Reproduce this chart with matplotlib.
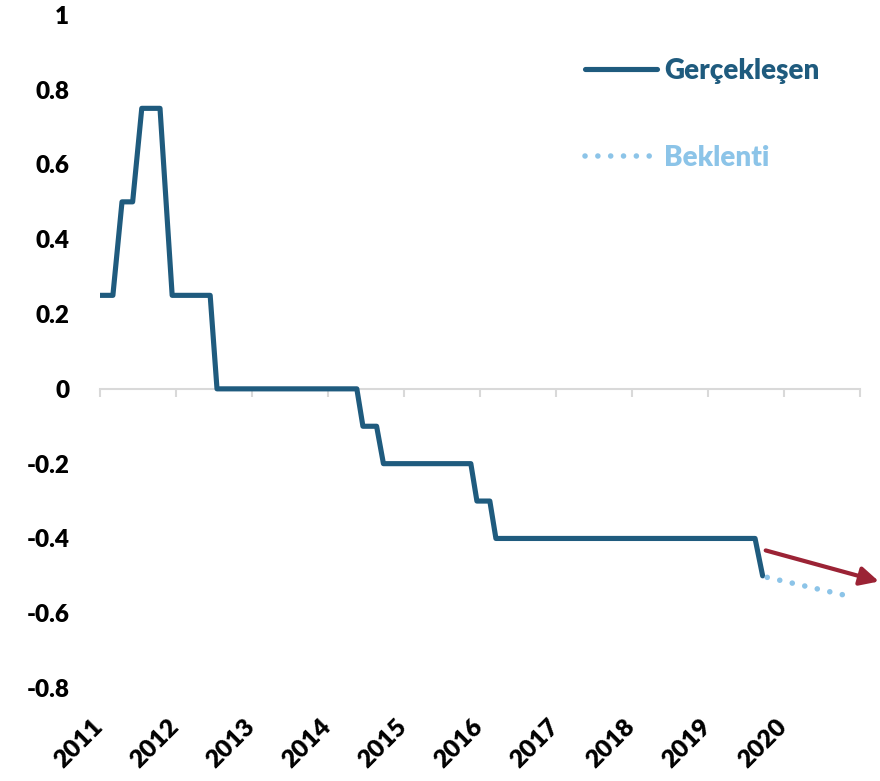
import matplotlib
matplotlib.use("Agg")
import matplotlib.pyplot as plt

plt.rcParams['font.family'] = ['Lato', 'DejaVu Sans']

# Gerçekleşen: breakpoints (decimal year, rate %)
actual_x = [2011.00, 2011.17, 2011.29, 2011.43, 2011.55, 2011.79, 2011.95,
            2012.45, 2012.54, 2014.38, 2014.46, 2014.64, 2014.73, 2015.88,
            2015.96, 2016.13, 2016.21, 2019.62, 2019.72]
actual_y = [0.25, 0.25, 0.50, 0.50, 0.75, 0.75, 0.25,
            0.25, 0.00, 0.00, -0.10, -0.10, -0.20, -0.20,
            -0.30, -0.30, -0.40, -0.40, -0.50]

# Beklenti
expect_x = [2019.78, 2020.87]
expect_y = [-0.504, -0.555]

# trend arrow
arrow_start = (2019.76, -0.432)
arrow_end = (2021.25, -0.515)

years = list(range(2011, 2022))
year_labels = [str(y) for y in range(2011, 2021)]
yticks = [1, 0.8, 0.6, 0.4, 0.2, 0, -0.2, -0.4, -0.6, -0.8]
ytick_labels = ['1', '0.8', '0.6', '0.4', '0.2', '0', '-0.2', '-0.4', '-0.6', '-0.8']

dark = '#1f5b7e'
light = '#8cc4e8'
red = '#9b2335'
grey = '#d9d9d9'
W = 800  # heavy weight, close to Calibri Bold

fig = plt.figure(figsize=(8.8, 7.81), dpi=100)
ax = fig.add_axes([0.1136, 0.119, 0.8636, 0.862])

ax.plot(actual_x, actual_y, color=dark, lw=3.7, solid_joinstyle='round',
        solid_capstyle='round', label='Gerçekleşen', zorder=3)
ax.plot(expect_x, expect_y, color=light, lw=4.0, linestyle=(0, (0.01, 2.3)),
        dash_capstyle='round', label='Beklenti', zorder=4)

ax.annotate('', xy=arrow_end, xytext=arrow_start, annotation_clip=False,
            arrowprops=dict(arrowstyle='-|>', color=red, lw=3,
                            mutation_scale=28, shrinkA=0, shrinkB=0))

ax.set_xlim(2011, 2021)
ax.set_ylim(-0.8, 1)

for s in ['top', 'right', 'left']:
    ax.spines[s].set_visible(False)
ax.spines['bottom'].set_position(('data', 0))
ax.spines['bottom'].set_color(grey)
ax.spines['bottom'].set_linewidth(1.5)

ax.set_xticks(years)
ax.tick_params(axis='x', direction='out', length=6, width=1.5, color=grey,
               labelbottom=False)
ax.set_yticks(yticks)
ax.set_yticklabels(ytick_labels)
ax.tick_params(axis='y', length=0, pad=22, labelsize=17.5)
for lab in ax.get_yticklabels():
    lab.set_fontweight(W)

# year labels at bottom
for y, lab in zip(years[:-1], year_labels):
    ax.text(y + 0.1, -0.04, lab, transform=ax.get_xaxis_transform(),
            rotation=45, ha='right', va='top', fontsize=18, fontweight=W)

leg = ax.legend(loc='upper left', bbox_to_anchor=(585 / 880, (781 - 58) / 781),
                bbox_transform=fig.transFigure, frameon=False, fontsize=20,
                handlelength=2.6, handletextpad=0.25, labelspacing=2.2,
                borderpad=0, borderaxespad=0, labelcolor='linecolor')
for t in leg.get_texts():
    t.set_fontweight(W)

fig.savefig('out.png', dpi=100)
